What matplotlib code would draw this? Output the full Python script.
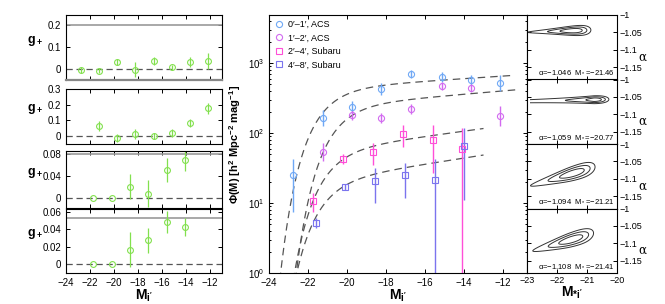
import numpy as np
import matplotlib
matplotlib.use('Agg')
import matplotlib.pyplot as plt
from matplotlib.lines import Line2D

plt.rcParams['font.family'] = ['Liberation Sans', 'DejaVu Sans']
plt.rcParams['mathtext.fontset'] = 'custom'
plt.rcParams['mathtext.rm'] = 'Liberation Sans'
plt.rcParams['mathtext.bf'] = 'Liberation Sans:bold'
plt.rcParams['mathtext.it'] = 'Liberation Sans:italic'

# --- data: shear profiles (left) ---
acs_x = [-22.75, -21.25, -19.75, -18.25, -16.7, -15.15, -13.65, -12.15]
sub_x = [-21.72, -20.2, -18.65, -17.15, -15.6, -14.1]
sub48_x = [-21.6, -20.1, -18.55, -17.05, -15.5, -14.0]

g1 = [-0.005, -0.007, 0.033, -0.003, 0.036, 0.008, 0.031, 0.036]
g1_err = [0.012, 0.012, 0.014, 0.034, 0.02, 0.012, 0.022, 0.038]
g2 = [0.064, -0.011, 0.013, 0.0, 0.017, 0.085, 0.176]
g2_err = [0.03, 0.025, 0.033, 0.02, 0.025, 0.025, 0.036]
g3 = [0.0, 0.0, 0.0205, 0.008, 0.0516, 0.0686]
g3_err = [0.0, 0.0, 0.023, 0.025, 0.022, 0.02]
g4 = [0.0, 0.0, 0.0164, 0.027, 0.048, 0.0426]
g4_err = [0.0, 0.0, 0.02, 0.0145, 0.0125, 0.01]

# --- data: luminosity functions (middle) ---
lf01_y = [25, 162, 238, 420, 690, 640, 565, 512]
lf01_lo = [7.4, 125, 195, 345, 605, 543, 479, 394]
lf01_hi = [42.7, 211, 290, 512, 787, 755, 666, 666]
lf12_x = acs_x[1:]
lf12_y = [54, 181, 162, 222, 474, 436, 177]
lf12_lo = [40, 153, 137, 188, 416, 382, 127]
lf12_hi = [73, 213, 191, 262, 540, 497, 246]
lf24_y = [10.7, 42, 54, 97, 79.5, 60]
lf24_lo = [7.5, 35.6, 34.8, 64, 27, 0.1]
lf24_hi = [13.8, 49.5, 72.6, 130, 130, 116]
lf48_y = [5.1, 16.7, 20.6, 25, 21.2, 66]
lf48_lo = [4.4, 15.1, 10.1, 11.6, 0.1, 11]
lf48_hi = [6.1, 18.4, 31.3, 37.5, 41.9, 118]

labels = ["0\u2032\u20131\u2032, ACS", "1\u2032\u20132\u2032, ACS",
          "2\u2032\u20134\u2032, Subaru", "4\u2032\u20138\u2032, Subaru"]
colors = ['#6fa8f5', '#d26af0', '#ff4fd8', '#7b74ee']

# Schechter fits
alpha_fit = [-1.046, -1.059, -1.094, -1.108]
mstar_fit = [-21.46, -20.77, -21.21, -21.41]
phi_norm = [436, 248, 57, 21]
curve_end = [-11.5, -11.2, -13.0, -13.0]

# likelihood contour shape parameters (right)
c_Mc = [-21.46, -20.77, -21.5, -21.55]
c_ac = [-1.045, -1.058, -1.085, -1.09]
c_k = [0.003, 0.002, 0.025, 0.025]
c_s = [0.004, 0.0033, 0.006, 0.006]
c_g = [0.5, 0.1, 0.3, 0.3]
c_suL = [0.22, 0.095, 0.21, 0.2]
c_pL = [1.0, 0.5, 1.0, 1.0]
c_suR = [0.21, 0.17, 0.3, 0.3]
c_lo = [-23.5, -22.9, -23.5, -23.5]

W, H = 665, 304
def rect(x0, y0, x1, y1):
    return [x0 / W, 1 - y1 / H, (x1 - x0) / W, (y1 - y0) / H]

fig = plt.figure(figsize=(6.65, 3.04), dpi=100)
green = '#82e04e'

# ---------- left panels ----------
left_rects = [(66, 15, 222, 80), (66, 89, 222, 144), (66, 151, 222, 208), (66, 209, 222, 273)]
left_data = [(acs_x, g1, g1_err), (acs_x[1:], g2, g2_err), (sub_x, g3, g3_err), (sub_x, g4, g4_err)]
left_ylim = [(-0.05, 0.245), (-0.051, 0.3), (-0.018, 0.0855), (-0.0103, 0.063)]
left_yticks = [[0, 0.1, 0.2], [0, 0.1, 0.2, 0.3], [0, 0.04, 0.08], [0, 0.02, 0.04, 0.06]]
left_ytl = [['0', '0.1', '0.2'], ['0', '0.1', '0.2', '0.3'], ['0', '0.04', '0.08'], ['0', '0.02', '0.04', '0.06']]
gray_lines = [0.2, None, 0.08, 0.053]
for i in range(4):
    ax = fig.add_axes(rect(*left_rects[i]))
    x, g, e = left_data[i]
    ax.axhline(0, color='#555555', lw=0.9, ls=(0, (5, 3)))
    if gray_lines[i] is not None:
        ax.axhline(gray_lines[i], color='#999999', lw=1.2)
    ax.errorbar(x, g, yerr=e, fmt='o', mfc='none', mec=green, ecolor=green,
                ms=4.2, mew=0.8, elinewidth=0.9, capsize=0)
    ax.set_xlim(-24, -11)
    ax.set_ylim(*left_ylim[i])
    ax.set_yticks(left_yticks[i])
    ax.set_yticklabels(left_ytl[i])
    ax.set_xticks(range(-24, -11, 2))
    ax.tick_params(direction='in', top=True, right=True, labelsize=7, length=3, width=0.7)
    if i == 0:
        ax.spines['bottom'].set_color('#888888')
        ax.spines['bottom'].set_linewidth(1.6)
    if i < 3:
        ax.set_xticklabels([])
    else:
        ax.set_xlabel(r"$\mathbf{M_{i'}}$", fontsize=10, labelpad=0)
    ax.set_ylabel(r'$\mathbf{g_+}$', rotation=0, fontsize=9)
    ax.yaxis.set_label_coords(-0.2, 0.5)

# ---------- middle panel ----------
ax = fig.add_axes(rect(269, 15, 527, 273))
ax.set_yscale('log')
for i in range(4):
    M = np.linspace(-24, curve_end[i], 400)
    xx = 10 ** (0.4 * (mstar_fit[i] - M))
    phi = phi_norm[i] * xx ** (alpha_fit[i] + 1) * np.exp(-xx)
    ax.plot(M, phi, color='#555555', lw=0.9, ls=(0, (6, 4)))

series = [(acs_x, lf01_y, lf01_lo, lf01_hi, 'o'),
          (lf12_x, lf12_y, lf12_lo, lf12_hi, 'o'),
          (sub_x, lf24_y, lf24_lo, lf24_hi, 's'),
          (sub48_x, lf48_y, lf48_lo, lf48_hi, 's')]
for i, (x, y, lo, hi, mk) in enumerate(series):
    y = np.array(y); lo = np.array(lo); hi = np.array(hi)
    ax.errorbar(x, y, yerr=[y - lo, hi - y], fmt=mk, mfc='none', mec=colors[i],
                ecolor=colors[i], ms=4.4 if mk == 'o' else 3.8, mew=0.8,
                elinewidth=1.0, capsize=0)
ax.set_xlim(-24, -10.77)
ax.set_ylim(1, 4850)
ax.set_xticks(range(-24, -11, 2))
ax.tick_params(which='both', direction='in', top=True, right=True, labelsize=7, width=0.7)
ax.tick_params(which='major', length=3)
ax.tick_params(which='minor', length=1.5)
ax.set_xlabel(r"$\mathbf{M_{i'}}$", fontsize=10, labelpad=0)
ax.set_ylabel(r'$\mathbf{\Phi(M)\ [h^2\ Mpc^{-2}\ mag^{-1}]}$', fontsize=8)
ax.yaxis.set_label_coords(-0.1, 0.5)
handles = [Line2D([], [], marker=m, ls='none', mfc='none', mec=c, ms=4.4 if m == 'o' else 3.8, mew=0.8)
           for m, c in zip(['o', 'o', 's', 's'], colors)]
ax.legend(handles, labels, loc='upper left', frameon=False, fontsize=6.5,
          handletextpad=0.4, labelspacing=0.5, borderaxespad=0.15, handlelength=1.2)

# ---------- right panels ----------
ph = (273 - 15) / 4
for i in range(4):
    ax = fig.add_axes(rect(527, 15 + i * ph, 617, 15 + (i + 1) * ph))
    Mg, Ag = np.meshgrid(np.linspace(c_lo[i], -20, 400), np.linspace(-1.19, -1.0, 300))
    e = 10 ** (0.4 * (Mg - c_Mc[i]))
    u = 1 - e
    hu = np.where(u > 0, (np.abs(u) / c_suL[i]) ** c_pL[i], np.abs(u) / c_suR[i])
    v = (Ag - c_ac[i] - c_k[i] * (Mg - c_Mc[i])) / (c_s[i] * e ** c_g[i])
    chi = np.sqrt(hu ** 2 + v ** 2)
    ax.contour(Mg, Ag, chi, levels=[1.52, 2.48, 3.43], colors='#333333', linewidths=0.7)
    ax.set_xlim(-23, -20)
    ax.set_ylim(-1.185, -1.0)
    ax.set_yticks([-1, -1.05, -1.1, -1.15])
    ax.set_yticklabels(['\u22121', '\u22121.05', '\u22121.1', '\u22121.15'])
    ax.set_xticks([-23, -22, -21, -20])
    ax.yaxis.tick_right()
    ax.tick_params(direction='in', top=True, left=True, right=True, labelsize=6.5,
                   length=3, width=0.7, labelleft=False, labelright=True, pad=2)
    ax.yaxis.set_label_position('right')
    ax.set_ylabel('\u03b1', rotation=0, fontsize=8.5, family='DejaVu Serif')
    ax.yaxis.set_label_coords(1.28, 0.45)
    ax.text(0.97, 0.05, '\u03b1=%s  M$_*$=%s' % (('%.3f' % alpha_fit[i]).replace('-', '\u2212'),
                                                    ('%.2f' % mstar_fit[i]).replace('-', '\u2212')),
            transform=ax.transAxes, ha='right', va='bottom', fontsize=5.5)
    if i < 3:
        ax.set_xticklabels([])
    else:
        ax.set_xlabel(r"$\mathbf{M_{*i'}}$", fontsize=10, labelpad=0)

fig.savefig('out.png', dpi=100)
